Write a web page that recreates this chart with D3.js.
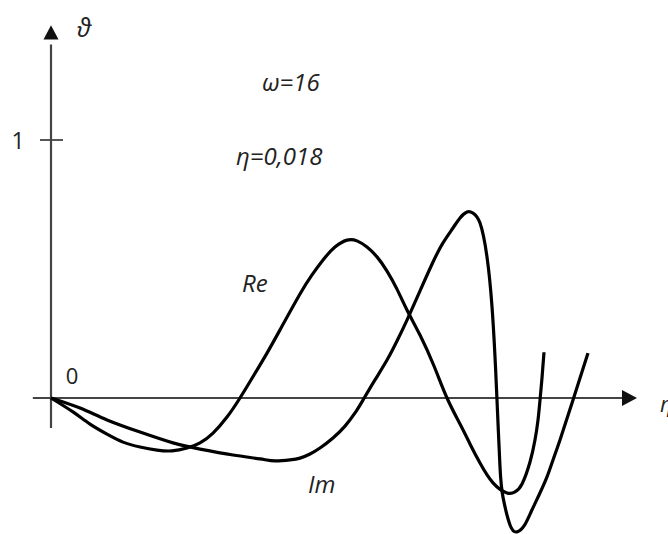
<!DOCTYPE html>
<html>
<head>
<meta charset="utf-8">
<script src="https://cdn.jsdelivr.net/npm/d3@7"></script>
<style>
  html, body { margin: 0; padding: 0; background: #fff; }
  svg { display: block; }
  text { font-family: "Open Sans", "Liberation Sans", sans-serif; fill: #222; }
</style>
</head>
<body>
<svg id="chart" width="668" height="534"></svg>
<script>
// Real part of the response, ϑ versus η (arbitrary x units)
const reX = [0, 0.375, 0.666, 0.956, 1.229, 1.519, 1.809, 2.065, 2.321, 2.543, 2.765, 3.003, 3.225, 3.464, 3.686, 3.908, 4.249, 4.454, 4.642, 4.846, 5.051, 5.222, 5.392, 5.563, 5.734, 5.904, 6.075, 6.297, 6.536, 6.758, 6.980, 7.150, 7.321, 7.543, 7.782, 7.918, 8.038, 8.174, 8.259, 8.311, 8.345, 8.379, 8.413];
const reY = [0, -0.054, -0.101, -0.140, -0.171, -0.190, -0.202, -0.205, -0.194, -0.174, -0.136, -0.074, 0, 0.089, 0.174, 0.264, 0.403, 0.477, 0.535, 0.585, 0.612, 0.609, 0.585, 0.547, 0.492, 0.422, 0.341, 0.244, 0.124, 0, -0.101, -0.178, -0.252, -0.329, -0.368, -0.364, -0.333, -0.248, -0.163, -0.085, -0.008, 0.078, 0.178];

// Imaginary part
const imX = [0, 0.495, 0.956, 1.519, 2.082, 2.543, 3.106, 3.567, 3.823, 4.078, 4.249, 4.420, 4.590, 4.812, 5.017, 5.188, 5.324, 5.529, 5.734, 5.904, 6.075, 6.297, 6.519, 6.689, 6.860, 6.980, 7.099, 7.201, 7.321, 7.440, 7.526, 7.577, 7.611, 7.662, 7.713, 7.833, 7.952, 8.072, 8.191, 8.328, 8.464, 8.567, 8.686, 8.908, 9.164];
const imY = [0, -0.039, -0.085, -0.132, -0.174, -0.198, -0.221, -0.236, -0.244, -0.240, -0.233, -0.217, -0.194, -0.155, -0.109, -0.058, -0.008, 0.070, 0.147, 0.221, 0.302, 0.415, 0.527, 0.601, 0.659, 0.698, 0.721, 0.717, 0.678, 0.547, 0.353, 0.159, -0.008, -0.267, -0.384, -0.492, -0.519, -0.496, -0.442, -0.376, -0.306, -0.240, -0.163, -0.008, 0.174];

// Tick on the vertical axis
const yTicks = [1];
const yTickLabels = ["1"];

const svg = d3.select("#chart");

const x = d3.scaleLinear().domain([0, 10]).range([51, 637]);
const y = d3.scaleLinear().domain([0, 1]).range([398, 140]);

const axisColor = "#444";

// Horizontal axis with arrow
svg.append("line")
  .attr("x1", x(-0.31)).attr("x2", x(9.76))
  .attr("y1", y(0)).attr("y2", y(0))
  .attr("stroke", axisColor).attr("stroke-width", 2.2);
svg.append("path")
  .attr("d", `M${x(10)},${y(0)} L${x(10) - 15},${y(0) - 8} L${x(10) - 15},${y(0) + 8} Z`)
  .attr("fill", "#111");

// Vertical axis with arrow
svg.append("line")
  .attr("x1", x(0)).attr("x2", x(0))
  .attr("y1", y(-0.116)).attr("y2", y(1.37))
  .attr("stroke", axisColor).attr("stroke-width", 2.2);
svg.append("path")
  .attr("d", `M${x(0)},${y(1.445)} L${x(0) - 7.5},${y(1.39)} L${x(0) + 7.5},${y(1.39)} Z`)
  .attr("fill", "#111");

// Ticks on the vertical axis
yTicks.forEach((t, i) => {
  svg.append("line")
    .attr("x1", x(0) - 11).attr("x2", x(0) + 12)
    .attr("y1", y(t)).attr("y2", y(t))
    .attr("stroke", axisColor).attr("stroke-width", 1.8);
  svg.append("text")
    .attr("x", 18).attr("y", y(t) + 9)
    .attr("text-anchor", "middle")
    .attr("font-size", 23)
    .text(yTickLabels[i]);
});

// Origin label
svg.append("text")
  .attr("x", 72).attr("y", 384)
  .attr("text-anchor", "middle")
  .attr("font-size", 22)
  .text("0");

// Axis titles
svg.append("text")
  .attr("x", 77).attr("y", 37)
  .attr("font-size", 25)
  .attr("font-style", "italic")
  .attr("font-family", "DejaVu Serif, serif")
  .text("ϑ");
svg.append("text")
  .attr("x", 660).attr("y", 412)
  .attr("font-size", 22)
  .attr("font-style", "italic")
  .text("η");

// Parameter annotations
svg.append("text")
  .attr("x", 262).attr("y", 91)
  .attr("font-size", 24)
  .attr("font-style", "italic")
  .text("ω=16");
svg.append("text")
  .attr("x", 236).attr("y", 165)
  .attr("font-size", 24)
  .attr("font-style", "italic")
  .text("η=0,018");

// Curves
const line = d3.line()
  .x(d => x(d[0]))
  .y(d => y(d[1]))
  .curve(d3.curveNatural);

const reData = reX.map((v, i) => [v, reY[i]]);
const imData = imX.map((v, i) => [v, imY[i]]);

svg.append("path")
  .datum(reData)
  .attr("d", line)
  .attr("fill", "none")
  .attr("stroke", "#000")
  .attr("stroke-width", 3.2);

svg.append("path")
  .datum(imData)
  .attr("d", line)
  .attr("fill", "none")
  .attr("stroke", "#000")
  .attr("stroke-width", 3.2);

// Curve labels
svg.append("text")
  .attr("x", 242).attr("y", 292)
  .attr("font-size", 24)
  .attr("font-style", "italic")
  .text("Re");
svg.append("text")
  .attr("x", 308).attr("y", 493)
  .attr("font-size", 24)
  .attr("font-style", "italic")
  .text("Im");
</script>
</body>
</html>
